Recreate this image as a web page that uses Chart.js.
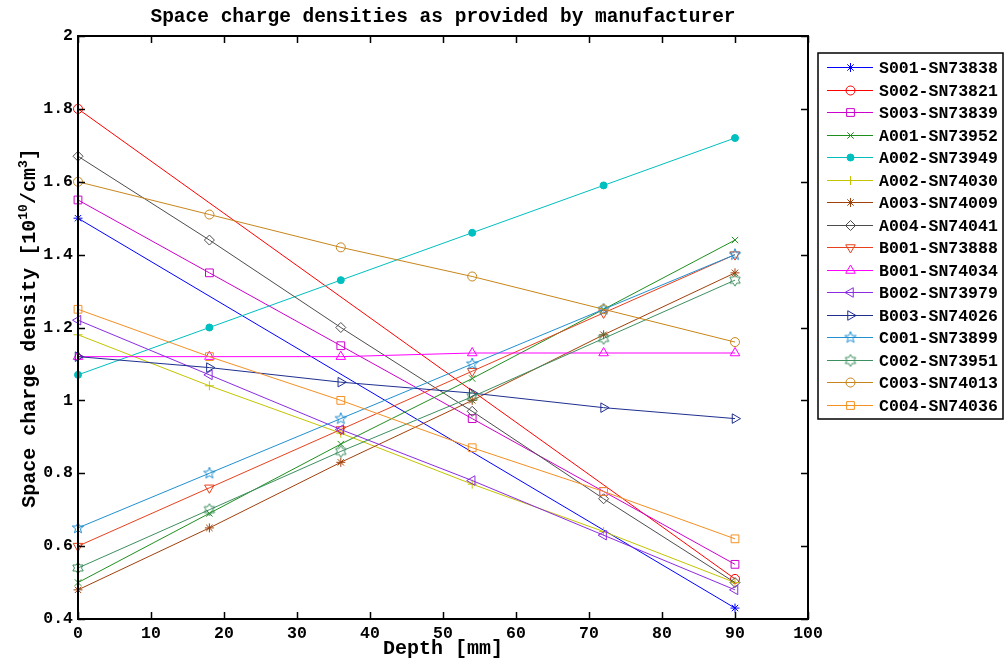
<!DOCTYPE html>
<html>
<head>
<meta charset="utf-8">
<title>Space charge densities</title>
<script src="https://cdn.jsdelivr.net/npm/chart.js@4/dist/chart.umd.min.js"></script>
<style>
  html, body { margin: 0; padding: 0; background: #fff; }
  canvas { display: block; }
</style>
</head>
<body>
<canvas id="chart" width="1006" height="664"></canvas>
<script>
// depth positions (mm) where the densities were given
const depth = [0, 18, 36, 54, 72, 90];
const depthEnds = [0, 90];

// space charge densities [1e10 / cm^3]
const s001 = [1.50, 0.43];
const s002 = [1.80, 0.51];
const s003 = [1.55, 1.35, 1.15, 0.95, 0.75, 0.55];
const a001 = [0.50, 0.69, 0.88, 1.06, 1.25, 1.44];
const a002 = [1.07, 1.20, 1.33, 1.46, 1.59, 1.72];
const a002b = [1.18, 1.04, 0.91, 0.77, 0.64, 0.50];
const a003 = [0.48, 0.65, 0.83, 1.00, 1.18, 1.35];
const a004 = [1.67, 1.44, 1.20, 0.97, 0.73, 0.50];
const b001 = [0.60, 0.76, 0.92, 1.08, 1.24, 1.40];
const b001b = [1.12, 1.12, 1.12, 1.13, 1.13, 1.13];
const b002 = [1.22, 1.07, 0.92, 0.78, 0.63, 0.48];
const b003 = [1.12, 1.09, 1.05, 1.02, 0.98, 0.95];
const c001 = [0.65, 0.80, 0.95, 1.10, 1.25, 1.40];
const c002 = [0.54, 0.70, 0.86, 1.01, 1.17, 1.33];
const c003 = [1.60, 1.51, 1.42, 1.34, 1.25, 1.16];
const c004 = [1.25, 1.12, 1.00, 0.87, 0.75, 0.62];

const sensorNames = [
  "S001-SN73838", "S002-SN73821", "S003-SN73839", "A001-SN73952",
  "A002-SN73949", "A002-SN74030", "A003-SN74009", "A004-SN74041",
  "B001-SN73888", "B001-SN74034", "B002-SN73979", "B003-SN74026",
  "C001-SN73899", "C002-SN73951", "C003-SN74013", "C004-SN74036",
];

const xTicks = [0, 10, 20, 30, 40, 50, 60, 70, 80, 90, 100];
const yTicks = [0.4, 0.6, 0.8, 1, 1.2, 1.4, 1.6, 1.8, 2];

const MONO = '"Liberation Mono", "DejaVu Sans Mono", monospace';
const TICK_FONT = { family: MONO, size: 16.5, weight: "bold" };

// outlined star markers that Chart.js has no built-in style for
const starMarker = (points, inner, color) => {
  const c = document.createElement("canvas");
  c.width = 14;
  c.height = 14;
  const g = c.getContext("2d");
  const outer = 6;
  g.strokeStyle = color;
  g.lineWidth = 1;
  g.beginPath();
  for (let i = 0; i < points * 2; i++) {
    const r = i % 2 === 0 ? outer : outer * inner;
    const a = -Math.PI / 2 + (i * Math.PI) / points;
    const px = 7 + r * Math.cos(a);
    const py = 7 + r * Math.sin(a);
    i === 0 ? g.moveTo(px, py) : g.lineTo(px, py);
  }
  g.closePath();
  g.stroke();
  return c;
};

const series = [
  { values: s001, xs: depthEnds, color: "#0000ff", style: "star", radius: 4.5 },
  { values: s002, xs: depthEnds, color: "#ff0000", style: "circle", radius: 4.5 },
  { values: s003, xs: depth, color: "#cc00cc", style: "rect", radius: 5.5 },
  { values: a001, xs: depth, color: "#1f8f1f", style: "crossRot", radius: 4.5 },
  { values: a002, xs: depth, color: "#00bfbf", style: "circle", radius: 3.5, filled: true },
  { values: a002b, xs: depth, color: "#c4c400", style: "cross", radius: 4.5 },
  { values: a003, xs: depth, color: "#a0400a", style: "star", radius: 4.5 },
  { values: a004, xs: depth, color: "#4d4d4d", style: "rectRot", radius: 5 },
  { values: b001, xs: depth, color: "#e8401c", style: "triangle", radius: 5.5, rotation: 180 },
  { values: b001b, xs: depth, color: "#ff00ff", style: "triangle", radius: 5.5 },
  { values: b002, xs: depth, color: "#8a2be2", style: "triangle", radius: 5.5, rotation: 270 },
  { values: b003, xs: depth, color: "#1f2f8f", style: "triangle", radius: 5.5, rotation: 90 },
  { values: c001, xs: depth, color: "#2090d0", star: [5, 0.42] },
  { values: c002, xs: depth, color: "#3d8f5f", star: [6, 0.58] },
  { values: c003, xs: depth, color: "#c8861a", style: "circle", radius: 4.5 },
  { values: c004, xs: depth, color: "#f59023", style: "rect", radius: 5.5 },
];

const datasets = series.map((s, i) => ({
  label: sensorNames[i],
  data: s.values.map((v, k) => ({ x: s.xs[k], y: v })),
  borderColor: s.color,
  backgroundColor: s.color,
  borderWidth: 1,
  pointStyle: s.star ? starMarker(s.star[0], s.star[1], s.color) : s.style,
  pointRadius: s.radius || 6,
  pointRotation: s.rotation || 0,
  pointBorderColor: s.color,
  pointBackgroundColor: s.filled ? s.color : "rgba(0,0,0,0)",
  pointBorderWidth: 1,
  tension: 0,
  clip: false,
  order: -i,
}));

const frame = { left: 78, top: 36, right: 808, bottom: 619 };

const drawBox = (chart) => {
  const { ctx, scales } = chart;
  const { left, top, right, bottom } = chart.chartArea;
  ctx.save();
  ctx.strokeStyle = "#000";
  ctx.lineWidth = 2;
  ctx.strokeRect(left, top, right - left, bottom - top);
  ctx.lineWidth = 1.5;
  ctx.beginPath();
  xTicks.forEach((t) => {
    const x = Math.round(scales.x.getPixelForValue(t)) + 0.5;
    ctx.moveTo(x, bottom);
    ctx.lineTo(x, bottom - 7);
    ctx.moveTo(x, top);
    ctx.lineTo(x, top + 7);
  });
  yTicks.forEach((t) => {
    const y = Math.round(scales.y.getPixelForValue(t)) + 0.5;
    ctx.moveTo(left, y);
    ctx.lineTo(left + 7, y);
    ctx.moveTo(right, y);
    ctx.lineTo(right - 7, y);
  });
  ctx.stroke();
  ctx.restore();
};

const drawTexts = (chart) => {
  const { ctx } = chart;
  const { left, right } = chart.chartArea;
  const mid = (left + right) / 2;
  ctx.save();
  ctx.fillStyle = "#000";
  ctx.textAlign = "center";
  ctx.textBaseline = "middle";
  ctx.font = `bold 19.5px ${MONO}`;
  ctx.fillText("Space charge densities as provided by manufacturer", mid, 17);
  ctx.font = `bold 20px ${MONO}`;
  ctx.fillText("Depth [mm]", mid, 649);

  // y axis title with superscripts, reading bottom to top
  const parts = [
    ["Space charge density [10", 20, 0],
    ["10", 13, -8],
    ["/cm", 20, 0],
    ["3", 13, -8],
    ["]", 20, 0],
  ];
  const widthOf = ([text, size]) => {
    ctx.font = `bold ${size}px ${MONO}`;
    return ctx.measureText(text).width;
  };
  const total = parts.reduce((sum, p) => sum + widthOf(p), 0);
  ctx.translate(29, 328);
  ctx.rotate(-Math.PI / 2);
  ctx.textAlign = "left";
  ctx.textBaseline = "alphabetic";
  let x = -total / 2;
  parts.forEach((p) => {
    const w = widthOf(p);
    ctx.fillText(p[0], x, 6 + p[2]);
    x += w;
  });
  ctx.restore();
};

const drawLegend = (chart) => {
  const { ctx } = chart;
  const box = { left: 818, top: 53, width: 185, height: 366 };
  ctx.save();
  ctx.fillStyle = "#fff";
  ctx.fillRect(box.left, box.top, box.width, box.height);
  ctx.strokeStyle = "#000";
  ctx.lineWidth = 1.5;
  ctx.strokeRect(box.left, box.top, box.width, box.height);
  ctx.font = `bold 16.5px ${MONO}`;
  ctx.textBaseline = "middle";
  ctx.textAlign = "left";
  chart.data.datasets.forEach((ds, i) => {
    const y = Math.round(67 + i * 22.5) + 0.5;
    ctx.strokeStyle = ds.borderColor;
    ctx.lineWidth = 1;
    ctx.beginPath();
    ctx.moveTo(827, y);
    ctx.lineTo(873, y);
    ctx.stroke();
    ctx.fillStyle = ds.pointBackgroundColor;
    Chart.helpers.drawPoint(ctx, {
      pointStyle: ds.pointStyle,
      rotation: ds.pointRotation,
      radius: ds.pointRadius,
      borderWidth: 1,
    }, 850.5, y);
    ctx.fillStyle = "#000";
    ctx.fillText(ds.label, 879, y + 1);
  });
  ctx.restore();
};

const matlabFrame = {
  id: "matlabFrame",
  beforeDraw: (chart) => {
    const { ctx, width, height } = chart;
    ctx.save();
    ctx.fillStyle = "#fff";
    ctx.fillRect(0, 0, width, height);
    ctx.restore();
  },
  afterDatasetsDraw: drawBox,
  afterDraw: (chart) => {
    drawTexts(chart);
    drawLegend(chart);
  },
};

new Chart(document.getElementById("chart").getContext("2d"), {
  type: "line",
  data: { datasets },
  plugins: [matlabFrame],
  options: {
    responsive: false,
    animation: false,
    events: [],
    layout: {
      padding: { top: frame.top, right: 1006 - frame.right, bottom: 0, left: 0 },
    },
    plugins: {
      legend: { display: false },
      title: { display: false },
      tooltip: { enabled: false },
    },
    scales: {
      x: {
        type: "linear",
        min: 0,
        max: 100,
        afterFit: (scale) => { scale.height = 664 - frame.bottom; },
        grid: { display: false, drawTicks: false },
        border: { display: false },
        ticks: { stepSize: 10, font: TICK_FONT, color: "#000", padding: 5 },
      },
      y: {
        type: "linear",
        min: 0.4,
        max: 2,
        afterFit: (scale) => { scale.width = frame.left; },
        grid: { display: false, drawTicks: false },
        border: { display: false },
        ticks: {
          stepSize: 0.2,
          font: TICK_FONT,
          color: "#000",
          padding: 5,
          callback: (value) => String(Number(value.toFixed(1))),
        },
      },
    },
  },
});
</script>
</body>
</html>
